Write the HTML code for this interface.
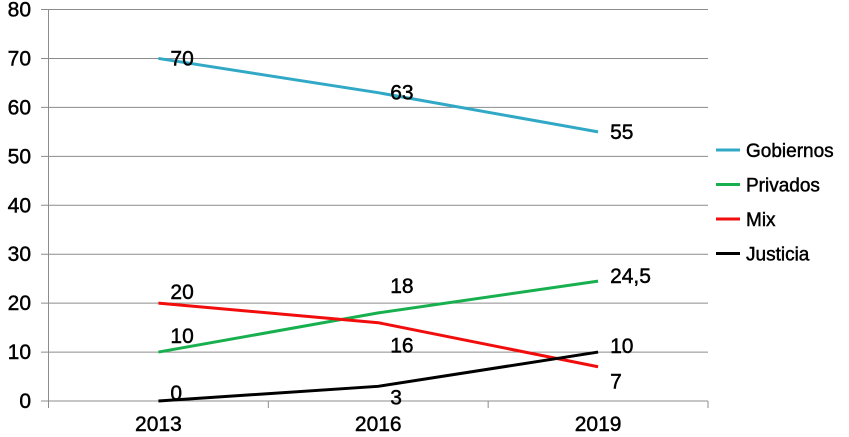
<!DOCTYPE html>
<html><head><meta charset="utf-8"><style>
body{margin:0;background:#fff;}
svg{display:block;font-family:"Liberation Sans",sans-serif;}
svg text{stroke:#000;stroke-width:0.45;}
</style></head><body>
<svg id="chart" width="849" height="437"></svg>
<script>
const categories=["2013","2016","2019"];
const seriesNames=["Gobiernos","Privados","Mix","Justicia"];
const seriesColors=["#31a9c6","#18b04e","#f20d0d","#000000"];
const gobiernos=[70,63,55];
const privados=[10,18,24.5];
const mix=[20,16,7];
const justicia=[0,3,10];
const yTicks=[0,10,20,30,40,50,60,70,80];
const labelDy=[[0,0,0],[-16,-27,-5],[-11,23,15],[-8,11,-6]];
const series=[gobiernos,privados,mix,justicia];
const NS="http://www.w3.org/2000/svg";
const svg=document.getElementById('chart');
const L=48.5,R=708,T=9.5,B=401;
const x=i=>L+(R-L)/categories.length*(i+0.5);
const y=v=>B-(B-T)*v/80;
function mk(t,a){const e=document.createElementNS(NS,t);for(const k in a)e.setAttribute(k,a[k]);svg.appendChild(e);return e;}
yTicks.forEach(t=>{
  const g=mk('line',{x1:41,x2:R,y1:y(t),y2:y(t),stroke:'#8c8c8c','stroke-width':1});
  
  
  const tx=mk('text',{x:31,y:y(t)+7,'text-anchor':'end','font-size':21,fill:'#000'});
  tx.textContent=t;
  
  
});
const ax=mk('line',{x1:L,x2:L,y1:T,y2:408,stroke:'#8c8c8c'});


for(let i=1;i<=categories.length;i++){
  const tk=mk('line',{x1:L+(R-L)/3*i,x2:L+(R-L)/3*i,y1:B,y2:408,stroke:'#8c8c8c'});
  
  
}
categories.forEach((c,i)=>{
  const t=mk('text',{x:x(i),y:437-6,'text-anchor':'middle','font-size':21,fill:'#000'});
  t.textContent=c;
  
  
});
series.forEach((s,si)=>{
  const p=mk('polyline',{points:s.map((v,i)=>x(i)+','+y(v)).join(' '),fill:'none',stroke:seriesColors[si],'stroke-width':3});
  
  
  s.forEach((v,i)=>{
    const t=mk('text',{x:x(i)+12,y:y(v)+7+labelDy[si][i],'font-size':21,fill:'#000'});
    t.textContent=String(v).replace('.',',');
    
    
  });
  const ly=150+si*34.5;
  const ll=mk('line',{x1:716,x2:740,y1:ly,y2:ly,stroke:seriesColors[si],'stroke-width':3});
  
  
  const lt=mk('text',{x:746,y:ly+7,'font-size':19,fill:'#000'});
  lt.textContent=seriesNames[si];
  
  
});
</script>
</body></html>
